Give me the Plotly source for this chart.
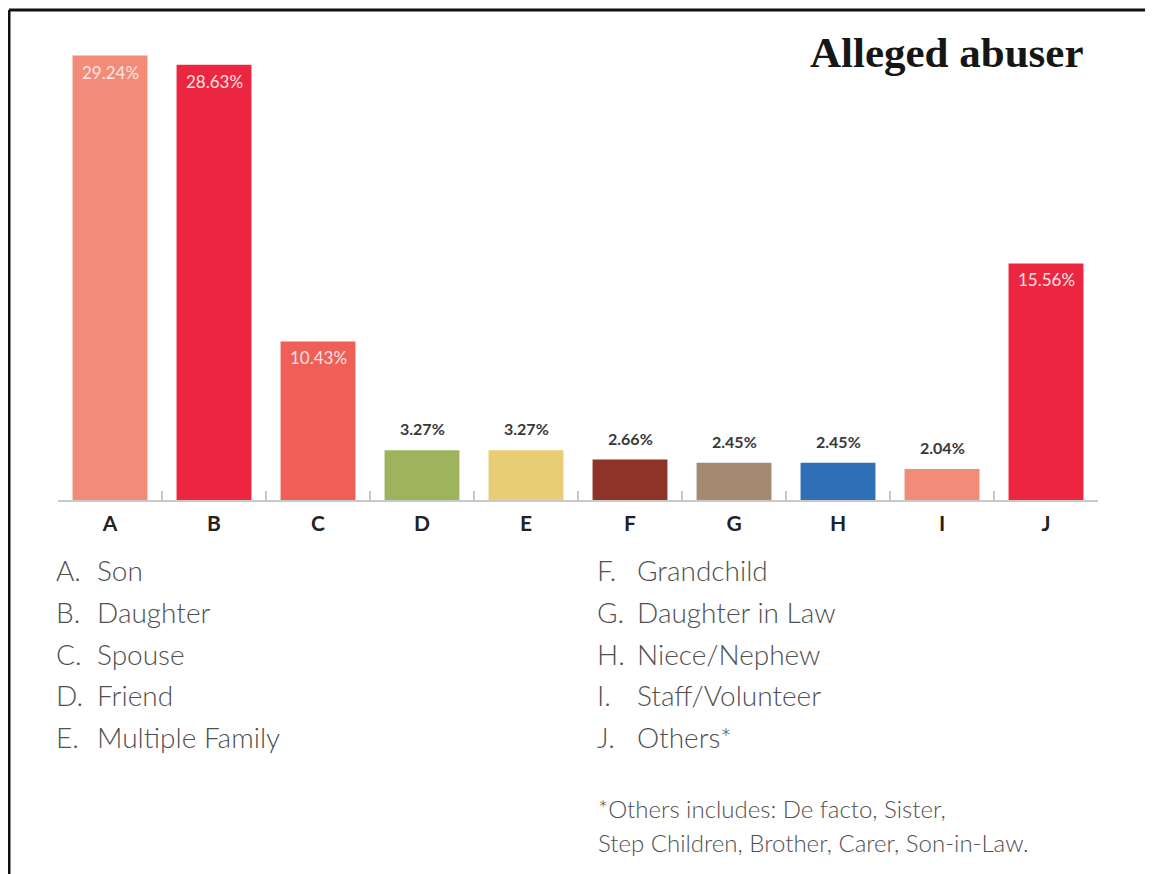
import plotly.graph_objects as go

categories = ["A", "B", "C", "D", "E", "F", "G", "H", "I", "J"]
values = [29.24, 28.63, 10.43, 3.27, 3.27, 2.66, 2.45, 2.45, 2.04, 15.56]
names = ["Son", "Daughter", "Spouse", "Friend", "Multiple Family",
         "Grandchild", "Daughter in Law", "Niece/Nephew", "Staff/Volunteer", "Others*"]
colors = ["#F28B78", "#EC2640", "#EF5F58", "#9DB35C", "#E8CD74",
          "#8E3328", "#A38A70", "#2E6FB7", "#F28B78", "#EC2640"]
inside = [True, True, True, False, False, False, False, False, False, True]
title_text = "Alleged abuser"
footnote = ["*Others includes: De facto, Sister,", "Step Children, Brother, Carer, Son-in-Law."]

OFF = 8  # page body margin
W, H = 1153 - OFF, 874 - OFF
# plot area in screen px
L, R, T, B = 58, 1098, 44, 500


def px(x):
    return (x - L) / (R - L)


def py(y):
    return (B - y) / (B - T)


fig = go.Figure()
fig.add_trace(go.Bar(
    x=categories, y=values, marker=dict(color=colors, line=dict(width=0)),
    width=0.72, hoverinfo="skip",
))

ann = []
for c, v, ins in zip(categories, values, inside):
    if ins:
        ann.append(dict(x=c, y=v, xref="x", yref="y", text=f"{v:.2f}%", showarrow=False,
                        yanchor="top", yshift=-4,
                        font=dict(family="Lato", size=17, color="#FCE4E2")))
    else:
        ann.append(dict(x=c, y=v, xref="x", yref="y", text=f"{v:.2f}%", showarrow=False,
                        yanchor="bottom", yshift=10,
                        font=dict(family="Lato", size=16, color="#383838", weight="bold")))

ann.append(dict(x=px(1086), y=py(52), xref="paper", yref="paper", text=f"<b>{title_text}</b>",
                showarrow=False, xanchor="right", yanchor="middle",
                font=dict(family="Liberation Serif", size=43, color="#161616")))

for i, (c, n) in enumerate(zip(categories, names)):
    col = i // 5
    row = i % 5
    ylet = 570 + row * 41.8
    xl = 54 if col == 0 else 595
    xn = 95 if col == 0 else 635
    ann.append(dict(x=px(xl), y=py(ylet), xref="paper", yref="paper", text=f"{c}.",
                    showarrow=False, xanchor="left", yanchor="middle",
                    font=dict(family="Lato", size=28, color="#505050", weight=300)))
    ann.append(dict(x=px(xn), y=py(ylet), xref="paper", yref="paper", text=n,
                    showarrow=False, xanchor="left", yanchor="middle",
                    font=dict(family="Lato", size=28, color="#505050", weight=300)))

for j, line in enumerate(footnote):
    ann.append(dict(x=px(596), y=py(808 + j * 34), xref="paper", yref="paper", text=line,
                    showarrow=False, xanchor="left", yanchor="middle",
                    font=dict(family="Lato", size=24, color="#505050", weight=300)))

shapes = [
    dict(type="line", xref="paper", yref="paper", x0=px(9), x1=px(9), y0=py(10), y1=py(900),
         line=dict(color="#111111", width=3)),
    dict(type="line", xref="paper", yref="paper", x0=px(9), x1=px(1200), y0=py(10), y1=py(10),
         line=dict(color="#111111", width=3)),
]

fig.update_layout(
    width=W, height=H, autosize=False,
    margin=dict(l=L - OFF, r=W - (R - OFF), t=T - OFF, b=H - (B - OFF), pad=0),
    paper_bgcolor="white", plot_bgcolor="white",
    showlegend=False, bargap=0.28,
    annotations=ann, shapes=shapes,
    xaxis=dict(type="category", showline=True, linecolor="#C8C8C8", linewidth=2,
               ticks="inside", tickson="boundaries", ticklen=9, tickcolor="#C8C8C8", tickwidth=2,
               showgrid=False, ticklabelstandoff=4,
               tickfont=dict(family="Lato", size=21, color="#222222", weight="bold")),
    yaxis=dict(range=[0, 30], visible=False, showgrid=False, zeroline=False),
)

fig.write_html("out.html")
